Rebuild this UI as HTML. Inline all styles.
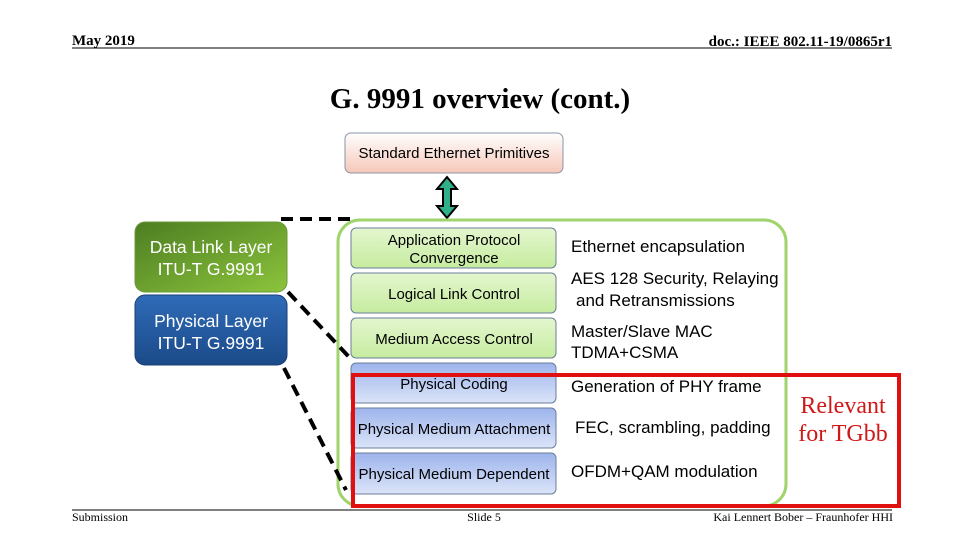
<!DOCTYPE html>
<html><head><meta charset="utf-8"><style>
body{margin:0;background:#fff}
svg{display:block}
.s{font-family:"Liberation Sans",sans-serif}
.t{font-family:"Liberation Serif",serif}
</style></head><body>
<svg width="960" height="540" viewBox="0 0 960 540" xmlns="http://www.w3.org/2000/svg">
<defs>
<linearGradient id="pk" x1="0" y1="0" x2="0" y2="1"><stop offset="0" stop-color="#fff"/><stop offset="1" stop-color="#f6c7b8"/></linearGradient>
<linearGradient id="gr" x1="0" y1="0" x2="0" y2="1"><stop offset="0" stop-color="#e4f6cf"/><stop offset="1" stop-color="#c6ec9f"/></linearGradient>
<linearGradient id="bl" x1="0" y1="0" x2="0" y2="1"><stop offset="0" stop-color="#9db4ec"/><stop offset="1" stop-color="#dbe4f8"/></linearGradient>
<linearGradient id="dg" x1="0" y1="0" x2="1" y2="1"><stop offset="0" stop-color="#4d7d22"/><stop offset="1" stop-color="#8cc43c"/></linearGradient>
<linearGradient id="db" x1="0" y1="0" x2="0" y2="1"><stop offset="0" stop-color="#2f6bb8"/><stop offset="1" stop-color="#1b4a88"/></linearGradient>
</defs>
<text x="72" y="45" class="t" font-size="15" font-weight="bold">May 2019</text>
<text x="892" y="46" class="t" font-size="15" font-weight="bold" text-anchor="end">doc.: IEEE 802.11-19/0865r1</text>
<line x1="72" y1="48" x2="892" y2="48" stroke="#000" stroke-width="1"/>
<text x="480" y="108" class="t" font-size="29" font-weight="bold" text-anchor="middle">G. 9991 overview (cont.)</text>
<rect x="345" y="133" width="218" height="40" rx="6" fill="url(#pk)" stroke="#8a94a8"/>
<text x="454" y="158" class="s" font-size="15" text-anchor="middle">Standard Ethernet Primitives</text>
<polygon points="447,177 457,189 451,189 451,206 457,206 447,218 437,206 443,206 443,189 437,189" fill="#2fb08a" stroke="#000" stroke-width="2"/>
<rect x="338" y="220" width="448" height="286" rx="22" fill="#fff" stroke="#9fd36b" stroke-width="3"/>
<g stroke="#000" stroke-width="4" stroke-dasharray="12,7" fill="none">
<line x1="281" y1="219" x2="350" y2="219"/>
<line x1="288" y1="292" x2="350" y2="358"/>
<line x1="284" y1="368" x2="346" y2="490"/>
</g>
<rect x="135" y="222" width="152" height="70" rx="10" fill="url(#dg)" stroke="#6a9a3a"/>
<text x="211" y="253" class="s" font-size="17.5" fill="#fff" text-anchor="middle">Data Link Layer</text>
<text x="211" y="275" class="s" font-size="17.5" fill="#fff" text-anchor="middle">ITU-T G.9991</text>
<rect x="135" y="295" width="152" height="70" rx="10" fill="url(#db)" stroke="#1a3f75"/>
<text x="211" y="327" class="s" font-size="17.5" fill="#fff" text-anchor="middle">Physical Layer</text>
<text x="211" y="349" class="s" font-size="17.5" fill="#fff" text-anchor="middle">ITU-T G.9991</text>
<g stroke="#6b7f99">
<rect x="351" y="228" width="205" height="40" rx="5" fill="url(#gr)"/>
<rect x="351" y="273" width="205" height="40" rx="5" fill="url(#gr)"/>
<rect x="351" y="318" width="205" height="40" rx="5" fill="url(#gr)"/>
<rect x="351" y="363" width="205" height="40" rx="5" fill="url(#bl)"/>
<rect x="351" y="408" width="205" height="40" rx="5" fill="url(#bl)"/>
<rect x="351" y="453" width="205" height="41" rx="5" fill="url(#bl)"/>
</g>
<g class="s" font-size="15" text-anchor="middle">
<text x="454" y="245">Application Protocol</text>
<text x="454" y="263">Convergence</text>
<text x="454" y="299">Logical Link Control</text>
<text x="454" y="344">Medium Access Control</text>
<text x="454" y="389">Physical Coding</text>
<text x="454" y="434">Physical Medium Attachment</text>
<text x="454" y="479">Physical Medium Dependent</text>
</g>
<g class="s" font-size="17">
<text x="571" y="252">Ethernet encapsulation</text>
<text x="571" y="284">AES 128 Security, Relaying</text>
<text x="576" y="306">and Retransmissions</text>
<text x="571" y="337">Master/Slave MAC</text>
<text x="571" y="358">TDMA+CSMA</text>
<text x="571" y="392">Generation of PHY frame</text>
<text x="575" y="433">FEC, scrambling, padding</text>
<text x="571" y="477">OFDM+QAM modulation</text>
</g>
<rect x="353" y="375" width="546" height="131" fill="none" stroke="#e01010" stroke-width="4"/>
<text x="843" y="413" class="t" font-size="24" fill="#d01818" text-anchor="middle">Relevant</text>
<text x="843" y="441" class="t" font-size="24" fill="#d01818" text-anchor="middle">for TGbb</text>
<line x1="72" y1="510" x2="892" y2="510" stroke="#000" stroke-width="1"/>
<text x="72" y="521" class="t" font-size="12">Submission</text>
<text x="484" y="521" class="t" font-size="12" text-anchor="middle">Slide 5</text>
<text x="893" y="521" class="t" font-size="12" text-anchor="end">Kai Lennert Bober – Fraunhofer HHI</text>
</svg>
</body></html>
